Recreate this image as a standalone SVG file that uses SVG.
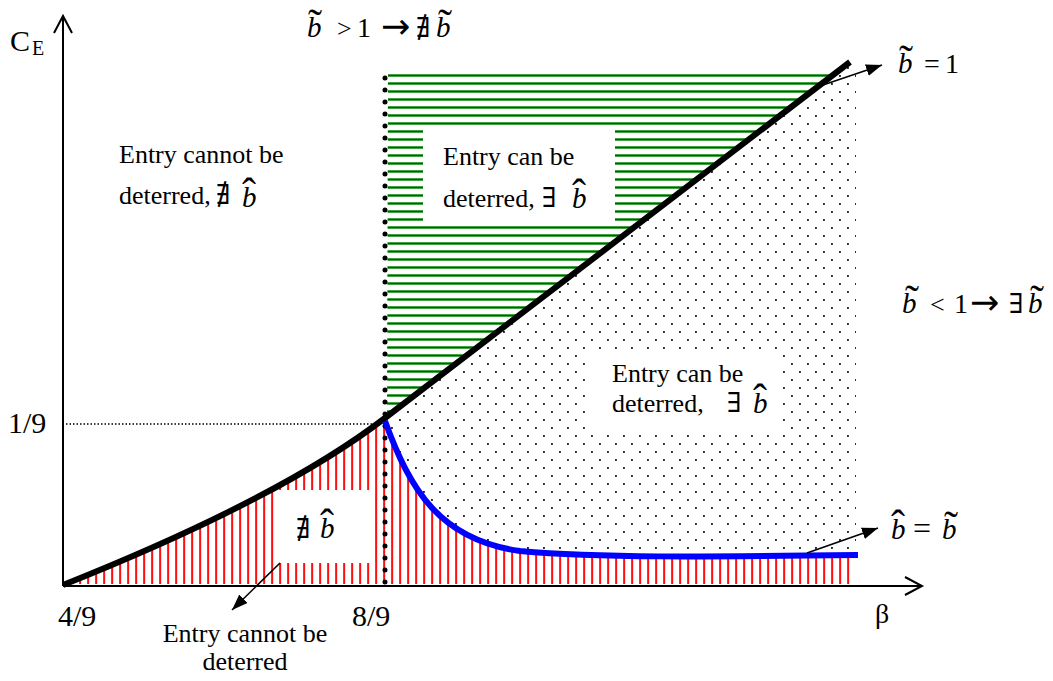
<svg xmlns="http://www.w3.org/2000/svg" width="1053" height="681" viewBox="0 0 1053 681">
<style>
.s{font-family:"Liberation Serif","DejaVu Serif",serif;fill:#000}
.t{font-size:26px}
.lab{font-size:30px}
.bi{font-family:"Liberation Serif",serif;font-style:italic;font-size:29px}
.m{font-family:"DejaVu Serif","Liberation Serif",serif;font-style:normal;font-size:27px}
.arr{font-family:"DejaVu Sans",sans-serif;font-style:normal;font-size:35px}
.acc{font-family:"Liberation Serif",serif;font-style:normal;font-size:42px}
.ax{stroke:#000;stroke-width:2;fill:none}
.conn{stroke:#000;stroke-width:1.6;fill:none;marker-end:url(#ah)}
</style>
<defs>
<pattern id="pRed" width="8" height="8" patternUnits="userSpaceOnUse" x="-1">
<rect x="-0.4" y="0" width="2.8" height="8" fill="#ff9c9c"/>
<rect x="0.3" y="0" width="1.6" height="8" fill="#ff0000"/>
</pattern>
<pattern id="pGreen" width="8" height="8" patternUnits="userSpaceOnUse" y="0">
<rect x="0" y="2" width="8" height="3" fill="#52b152"/>
<rect x="0" y="2.8" width="8" height="1.4" fill="#006400"/>
</pattern>
<pattern id="pDots" width="16" height="16" patternUnits="userSpaceOnUse" x="15" y="3">
<rect x="0" y="0" width="1.9" height="1.9" fill="#222"/>
<rect x="8" y="8" width="1.9" height="1.9" fill="#222"/>
</pattern>
<marker id="ah" markerUnits="userSpaceOnUse" markerWidth="17" markerHeight="13" refX="16" refY="6" orient="auto">
<path d="M0,0 L16,6 L0,12 Z" fill="#000"/>
</marker>
</defs>
<rect width="1053" height="681" fill="#fff"/>

<g id="regions">
<path id="green-region" d="M388,72 L837,72 L387,416 Z" fill="url(#pGreen)"/>
<path id="dotted-region" d="M386,418 L851,62 L856,62 L856,555 C700,557 600,558 520,551 C440,540 410,490 385,421 Z" fill="url(#pDots)"/>
<path id="red-region" d="M63,585 Q281,498 385,418 L385,421 C410,490 440,540 520,551 C600,558 700,557 858,555 L852,555 L852,584 L63,584 Z" fill="url(#pRed)"/>
<rect x="423" y="130" width="192" height="92" fill="#fff"/>
<rect x="590" y="352" width="188" height="80" fill="#fff"/>
<rect x="278" y="490" width="97" height="73" fill="#fff"/>
</g>

<g id="axes">
<line class="ax" x1="63" y1="586" x2="63" y2="16"/>
<path class="ax" d="M54,33 L63,16 L72,33"/>
<line class="ax" x1="63" y1="586" x2="922" y2="586"/>
<path class="ax" d="M905,577 L922,586 L905,595"/>
<line x1="66" y1="424" x2="373" y2="424" stroke="#000" stroke-width="1.3" stroke-dasharray="1.5 2"/>
<line x1="385" y1="78" x2="385" y2="584" stroke="#000" stroke-width="5" stroke-linecap="round" stroke-dasharray="0 12"/>
</g>

<g id="curves">
<path id="b-tilde-curve" d="M63,585 Q281,498 385,418 L850,62" fill="none" stroke="#000" stroke-width="6"/>
<path id="b-hat-curve" d="M385,421 C410,490 440,540 520,551 C600,558 700,557 858,555" fill="none" stroke="#0000ff" stroke-width="6"/>
</g>

<g id="connectors">
<line class="conn" x1="823" y1="85" x2="882" y2="65"/>
<line class="conn" x1="807" y1="553" x2="878" y2="528"/>
<line class="conn" x1="280" y1="563" x2="232" y2="610"/>
</g>

<g id="axis-labels">
<text class="s" y="51"><tspan class="lab" x="10">C</tspan><tspan x="32" dy="4" font-size="20">E</tspan></text>
<text class="s lab" x="8" y="433">1/9</text>
<text class="s lab" x="58" y="626">4/9</text>
<text class="s lab" x="352" y="626">8/9</text>
<text class="s" x="875" y="623" font-size="28">β</text>
</g>

<g id="label-top">
<text class="s" y="37"><tspan class="bi" x="307">b</tspan><tspan class="acc" dx="-13.5" dy="1">˜</tspan><tspan x="337" dy="-1" font-size="26">&gt;</tspan><tspan x="357" font-size="28">1</tspan><tspan class="arr" x="381" dy="1">→</tspan><tspan class="m" x="416" dy="-1">∄</tspan><tspan class="bi" x="436">b</tspan><tspan class="acc" dx="-12.5" dy="1">˜</tspan></text>
</g>

<g id="label-b-tilde-eq-1">
<text class="s" y="73"><tspan class="bi" x="898">b</tspan><tspan class="acc" dx="-13.5" dy="1">˜</tspan><tspan x="924" dy="-1" font-size="28">=</tspan><tspan x="945" font-size="28">1</tspan></text>
</g>

<g id="label-right">
<text class="s" y="313"><tspan class="bi" x="902">b</tspan><tspan class="acc" dx="-11.5" dy="1">˜</tspan><tspan x="930" dy="-1" font-size="26">&lt;</tspan><tspan x="954" font-size="28">1</tspan><tspan class="arr" x="970" dy="1">→</tspan><tspan class="m" x="1009" dy="-1">∃</tspan><tspan class="bi" x="1028">b</tspan><tspan class="acc" dx="-12.5" dy="1">˜</tspan></text>
</g>

<g id="label-bhat-eq-btilde">
<text class="s" y="539"><tspan class="bi" x="891">b</tspan><tspan class="acc" dx="-14.5">ˆ</tspan><tspan x="913" font-size="32">=</tspan><tspan class="bi" x="942">b</tspan><tspan class="acc" dx="-12.5" dy="1">˜</tspan></text>
</g>

<g id="label-left">
<text class="s t" x="119" y="163">Entry cannot be</text>
<text class="s t" y="204"><tspan x="119">deterred,</tspan><tspan class="m" x="216">∄</tspan><tspan class="bi" x="242" dy="3">b</tspan><tspan class="acc" dx="-14.5">ˆ</tspan></text>
</g>

<g id="label-green">
<text class="s t" x="443" y="165">Entry can be</text>
<text class="s t" y="207"><tspan x="443">deterred,</tspan><tspan class="m" x="542">∃</tspan><tspan class="bi" x="572" dy="1">b</tspan><tspan class="acc" dx="-14.5">ˆ</tspan></text>
</g>

<g id="label-dotted">
<text class="s t" x="612" y="382">Entry can be</text>
<text class="s t" y="412"><tspan x="612">deterred,</tspan><tspan class="m" x="727">∃</tspan><tspan class="bi" x="753" dy="1">b</tspan><tspan class="acc" dx="-14.5">ˆ</tspan></text>
</g>

<g id="label-red">
<text class="s" y="538"><tspan class="m" x="296">∄</tspan><tspan class="bi" x="320">b</tspan><tspan class="acc" dx="-14.5">ˆ</tspan></text>
</g>

<g id="label-bottom">
<text class="s t" x="245" y="642" text-anchor="middle">Entry cannot be</text>
<text class="s t" x="245" y="670" text-anchor="middle">deterred</text>
</g>
</svg>
